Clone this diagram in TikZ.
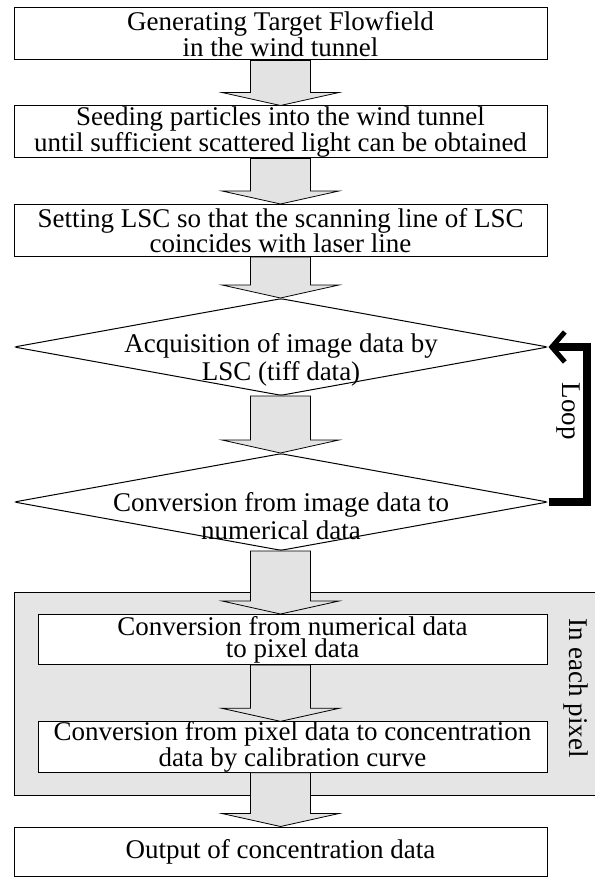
\documentclass[tikz,border=0pt]{standalone}
\usepackage{fontspec}
\setmainfont{Liberation Serif}
\usetikzlibrary{shapes.geometric,arrows.meta,calc}
\definecolor{arrgray}{RGB}{227,227,227}
\definecolor{panelgray}{RGB}{229,229,229}
\tikzset{
  box/.style={draw=black, line width=1pt, fill=white, inner sep=0pt,
    minimum width=533pt, minimum height=52pt, align=center,
    font=\fontsize{27}{22}\selectfont},
  inbox/.style={box, minimum width=509pt, minimum height=50pt},
  dia/.style={diamond, draw=black, line width=1pt, fill=white, inner sep=0pt,
    minimum width=534pt, minimum height=97pt, rounded corners=2.5pt},
  diatxt/.style={align=center, inner sep=0pt, font=\fontsize{27}{28}\selectfont},
  fatarrow/.style={draw=black, line width=0.8pt, fill=arrgray, line join=miter},
  loopline/.style={line width=8pt, line join=miter,
    -{Straight Barb[length=13pt,width=30pt,line width=5pt]}},
  side/.style={rotate=-90, font=\fontsize{27}{27}\selectfont, inner sep=0pt},
  panel/.style={draw=black, line width=1pt, fill=panelgray, inner sep=0pt},
}
\newcommand\blockarrow[2]{%
  \path[fatarrow] let \p1=(#1), \p2=(#2) in
   (250.5pt,\y1) -- (250.5pt,\y2+13pt) -- (222pt,\y2+13pt) -- (280.5pt,\y2)
   -- (339pt,\y2+13pt) -- (310.5pt,\y2+13pt) -- (310.5pt,\y1) -- cycle;}
\begin{document}
\begin{tikzpicture}[x=1pt,y=-1pt]
\useasboundingbox (0,0) rectangle (594,877);
% panel
\node[panel, minimum width=600pt, minimum height=203pt, anchor=north west] (pan) at (14,592) {};
% boxes
\node[box] (b1) at (280.5,34) {Generating Target Flowfield\\in the wind tunnel};
\node[box] (b2) at (280.5,132) {Seeding particles into the wind tunnel\\until sufficient scattered light can be obtained};
\node[box] (b3) at (280.5,230.5) {Setting LSC so that the scanning line of LSC\\coincides with laser line};
\node[dia] (d1) at (281,347) {};
\node[diatxt] (d1t) at (281,360) {Acquisition of image data by\\LSC (tiff data)};
\node[dia] (d2) at (281,502) {};
\node[diatxt] (d2t) at (281,516) {Conversion from image data to\\numerical data};
\node[inbox] (i1) at (292.5,639.5) {Conversion from numerical data\\to pixel data};
\node[inbox] (i2) at (292.5,747) {Conversion from pixel data to concentration\\data by calibration curve};
\node[box, minimum height=49pt] (out) at (280.5,851.5) {Output of concentration data};
% arrows
\blockarrow{b1.south}{b2.north}
\blockarrow{b2.south}{b3.north}
\blockarrow{b3.south}{d1.north}
\blockarrow{d1.south}{d2.north}
\blockarrow{d2.south}{i1.north}
\blockarrow{i1.south}{i2.north}
\blockarrow{i2.south}{out.north}
% loop
\coordinate (lb) at (587,502);
\coordinate (lt) at (587,347);
\draw[loopline] (d2.east) -- (lb) -- (lt) -- (d1.east);
\node[side] (looplbl) at (568,411) {Loop};
\node[side] (pixlbl) at (576,688) {In each pixel};
\end{tikzpicture}
\end{document}
